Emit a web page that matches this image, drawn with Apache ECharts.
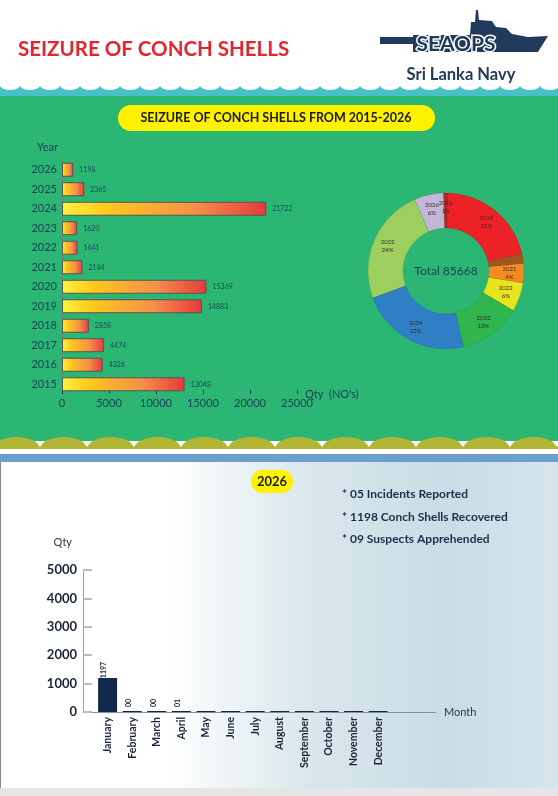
<!DOCTYPE html>
<html>
<head>
<meta charset="utf-8">
<script src="https://cdn.jsdelivr.net/npm/echarts@6/dist/echarts.min.js"></script>
<style>
html,body{margin:0;padding:0;background:#fff;}
#c{width:558px;height:796px;}
</style>
</head>
<body>
<div id="c"></div>
<script>
// ---- data ----
const yearCats = ['2015','2016','2017','2018','2019','2020','2021','2022','2023','2024','2025','2026'];
const yearQty = [13048,4326,4474,2858,14883,15369,2184,1641,1620,21722,2365,1198];
const yearTicks = [0,5000,10000,15000,20000,25000];

const pieNames = ['2016','2019','2020','2021','2022','2023','2024','2025','2026'];
const piePct = [1,21,2,4,6,13,23,24,6];
const pieTotal = 85668;

const months = ['January','February','March','April','May','June','July','August','September','October','November','December'];
const monthQty = [1197,0,0,1,0,0,0,0,0,0,0,0];
const monthLabels = ['1197','00','00','01','','','','','','','',''];
const monthTicks = [0,1000,2000,3000,4000,5000];

const bullets = ['* 05 Incidents Reported','* 1198 Conch Shells Recovered','* 09 Suspects Apprehended'];

// ---- decoration helpers (scalloped edges) ----
function scallopPoints(x0, x1, period, yBase, yPeak, yBottom, power){
  const pts = [[x0, yBottom]];
  for (let x = x0; x < x1; x += period){
    for (let k = 0; k <= 12; k++){
      const t = k/12;
      const s = Math.pow(Math.sin(Math.PI*t), power);
      pts.push([x + period*t, yBase - (yBase - yPeak)*s]);
    }
  }
  pts.push([x1 + period, yBottom]);
  return pts;
}
function plain(v){ return String(v); }

const navy = '#1d3d57';
const pieColors = ['#b3272b','#ec2227','#a4541f','#f58a1f','#e6e51e','#2fb64c','#2e7fc6','#9ccf5e','#c3b6d6'];
const chart = echarts.init(document.getElementById('c'));

const barGrad = new echarts.graphic.LinearGradient(0,0,1,0,[
  {offset:0,color:'#fff23c'},{offset:0.22,color:'#ffc81c'},{offset:0.65,color:'#f5904a'},{offset:1,color:'#e8393c'}
]);
const panelGrad = new echarts.graphic.LinearGradient(0,0,1,0,[
  {offset:0,color:'#ffffff'},{offset:0.3,color:'#ffffff'},{offset:0.55,color:'#d9e7ec'},{offset:0.8,color:'#c9dde6'},{offset:1,color:'#d6e5ec'}
]);

chart.setOption({
  animation:false,
  textStyle:{fontFamily:'Lato'},
  graphic:[
    {type:'rect',z:-10,shape:{x:0,y:95,width:558,height:346},style:{fill:'#2bb673'}},
    {type:'polygon',z:-9,shape:{points:scallopPoints(0,558,20,86,90,96,0.5)},style:{fill:'#47c1c8'}},
    {type:'polygon',z:-9,shape:{points:scallopPoints(-7,558,47,447,437,450,0.5)},style:{fill:'#b3b535'}},
    {type:'rect',z:-9,shape:{x:0,y:449,width:558,height:5},style:{fill:'#ffffff'}},
    {type:'rect',z:-9,shape:{x:0,y:454,width:558,height:8},style:{fill:'#6b9fcf'}},
    {type:'rect',z:-9,shape:{x:0,y:462,width:558,height:326},style:{fill:panelGrad}},
    {type:'rect',z:-8,shape:{x:0,y:462,width:1,height:326},style:{fill:'#888888'}},
    {type:'rect',z:-9,shape:{x:0,y:788,width:558,height:8},style:{fill:'#e6e6e6'}},
    // header
    {type:'text',style:{text:'SEIZURE OF CONCH SHELLS',x:18,y:49,textVerticalAlign:'middle',font:'bold 20.5px Lato',fill:'#e3262b'}},
    {type:'polygon',shape:{points:[[380,37],[413,37],[413,35],[470,35],[471,22],[475,22],[476,10],[478,10],[479,20],[492,21],[496,27],[506,28],[512,34],[528,37],[548,36],[538,52],[413,52],[413,44],[380,44]]},style:{fill:'#223a5c'}},
    {type:'text',style:{text:'SEAOPS',x:456,y:44,textAlign:'center',textVerticalAlign:'middle',font:'bold 21px Lato',fill:'#223a5c',stroke:'#ffffff',lineWidth:3,strokeFirst:true}},
    {type:'text',style:{text:'Sri Lanka Navy',x:461,y:75,textAlign:'center',textVerticalAlign:'middle',font:'bold 16.5px Lato',fill:'#223a5c'}},
    {type:'rect',shape:{x:118,y:105,width:317,height:26,r:13},style:{fill:'#fff200'}},
    {type:'text',style:{text:'SEIZURE OF CONCH SHELLS FROM 2015-2026',x:276,y:118,textAlign:'center',textVerticalAlign:'middle',font:'bold 12.5px Lato',fill:'#1a1a1a'}},
    {type:'text',style:{text:'Total ' + pieTotal,x:446,y:271,textAlign:'center',textVerticalAlign:'middle',font:'12px Lato',fill:navy}},
    // bottom panel
    {type:'rect',shape:{x:251,y:470,width:42,height:23,r:11.5},style:{fill:'#fff200'}},
    {type:'text',style:{text:'2026',x:272,y:482,textAlign:'center',textVerticalAlign:'middle',font:'bold 13px Lato',fill:'#1a1a1a'}},
    {type:'text',style:{text:bullets[0],x:342,y:494,textVerticalAlign:'middle',font:'bold 12px Lato',fill:'#1f2d4a'}},
    {type:'text',style:{text:bullets[1],x:342,y:517,textVerticalAlign:'middle',font:'bold 12px Lato',fill:'#1f2d4a'}},
    {type:'text',style:{text:bullets[2],x:342,y:539,textVerticalAlign:'middle',font:'bold 12px Lato',fill:'#1f2d4a'}}
  ],
  grid:[
    {left:62,top:160,width:235,height:234},
    {left:83,top:570,width:353,height:142}
  ],
  xAxis:[
    {gridIndex:0,type:'value',min:yearTicks[0],max:yearTicks[yearTicks.length-1],interval:yearTicks[1]-yearTicks[0],
      name:"Qty  (NO's)",nameLocation:'end',nameGap:8,nameMoveOverlap:false,nameTextStyle:{fontSize:11,color:navy,padding:[0,0,4,0]},
      axisLine:{lineStyle:{color:'#26343a',width:1.2}},axisTick:{show:true,inside:true,length:4,lineStyle:{color:'#26343a'}},
      splitLine:{show:false},axisLabel:{fontSize:11,color:navy,margin:4,formatter:plain}},
    {gridIndex:1,type:'value',min:-1,max:13.35,interval:1,
      name:'Month',nameLocation:'end',nameGap:8,nameMoveOverlap:false,nameTextStyle:{fontSize:11,color:'#2a3a4a'},
      axisLine:{onZero:false,lineStyle:{color:'#8a8f94'}},axisTick:{show:false},splitLine:{show:false},
      axisLabel:{rotate:90,fontSize:10.5,fontWeight:'bold',color:'#1a2538',margin:5,showMaxLabel:false,
        formatter:function(v){return (Number.isInteger(v) && months[v]) ? months[v] : '';}}}
  ],
  yAxis:[
    {gridIndex:0,type:'category',data:yearCats,name:'Year',nameLocation:'end',nameGap:7,
      nameTextStyle:{fontSize:11,color:navy,align:'right',padding:[0,4,0,0]},
      axisLine:{lineStyle:{color:'#6f7f78'}},axisTick:{show:false},axisLabel:{fontSize:11,color:navy,margin:5}},
    {gridIndex:1,type:'value',min:monthTicks[0],max:monthTicks[monthTicks.length-1],interval:monthTicks[1]-monthTicks[0],
      name:'Qty',nameLocation:'end',nameGap:22,nameTextStyle:{fontSize:11,color:'#333',align:'right',padding:[0,11,0,0]},
      axisLine:{show:true,onZero:false,lineStyle:{color:'#9aa0a6'}},axisTick:{show:true,inside:true,length:9,lineStyle:{color:'#bbbbbb',width:2}},
      splitLine:{show:false},axisLabel:{fontSize:13,fontWeight:'bold',color:'#1a2538',margin:6,formatter:plain}}
  ],
  series:[
    {type:'bar',xAxisIndex:0,yAxisIndex:0,data:yearQty,barWidth:14,
      itemStyle:{color:barGrad,borderColor:'#555',borderWidth:1},
      label:{show:true,position:'right',distance:6,fontSize:7,color:'#1d4a5a'}},
    {type:'pie',center:[446,271],radius:[43,78],startAngle:92,clockwise:true,
      data:pieNames.map(function(n,i){return {name:n,value:piePct[i]};}),
      color:pieColors,
      itemStyle:{borderColor:'rgba(0,0,0,0.15)',borderWidth:0.5},
      label:{show:true,position:'inside',formatter:'{b}\n{c}%',fontSize:6,lineHeight:8,color:'#3a2a2a'},
      labelLine:{show:false},emphasis:{disabled:true}},
    {type:'bar',xAxisIndex:1,yAxisIndex:1,data:monthQty.map(function(v,i){return [i,v];}),barWidth:19,barMinHeight:1,
      itemStyle:{color:'#10284a'},
      label:{show:true,position:'top',rotate:90,distance:8,fontSize:7,fontWeight:'bold',color:'#1a2538',
        formatter:function(p){return monthLabels[p.dataIndex];}}}
  ]
});
</script>
</body>
</html>
